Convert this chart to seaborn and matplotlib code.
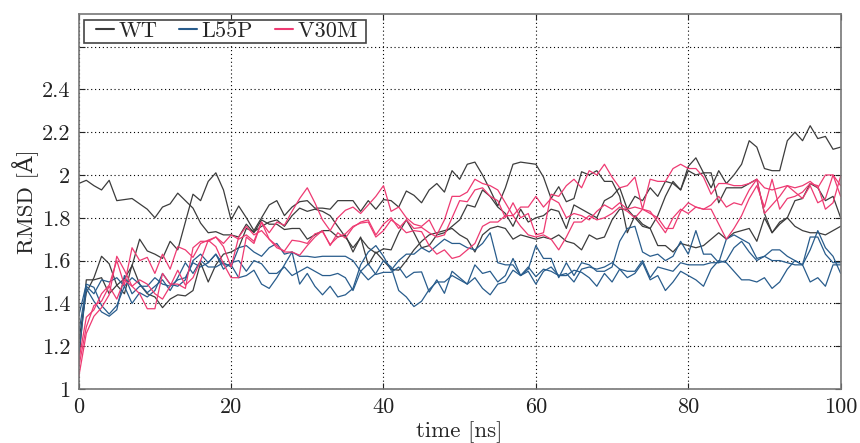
import numpy as np
import pandas as pd
import matplotlib
matplotlib.use("Agg")
import matplotlib.pyplot as plt
from matplotlib.legend_handler import HandlerLine2D
import seaborn as sns

# RMSD traces, one value per ns (0..100), three runs per system
time_ns = list(range(0, 101))

wt_run1 = [1.96, 1.975, 1.95, 1.93, 1.975, 1.88, 1.885, 1.89, 1.865, 1.84,
           1.80, 1.85, 1.865, 1.915, 1.88, 1.845, 1.775, 1.73, 1.735, 1.72,
           1.72, 1.71, 1.77, 1.73, 1.79, 1.77, 1.77, 1.745, 1.75, 1.75,
           1.70, 1.72, 1.74, 1.74, 1.71, 1.72, 1.64, 1.71, 1.58, 1.64,
           1.60, 1.56, 1.555, 1.60, 1.65, 1.69, 1.72, 1.73, 1.74, 1.75,
           1.72, 1.70, 1.64, 1.72, 1.75, 1.76, 1.75, 1.70, 1.72, 1.71,
           1.70, 1.71, 1.70, 1.72, 1.69, 1.68, 1.65, 1.72, 1.70, 1.71,
           1.79, 1.84, 1.84, 1.80, 1.76, 1.75, 1.67, 1.67, 1.64, 1.68,
           1.67, 1.66, 1.67, 1.70, 1.73, 1.70, 1.73, 1.74, 1.75, 1.69,
           1.80, 1.73, 1.78, 1.80, 1.76, 1.74, 1.73, 1.73, 1.72, 1.74,
           1.76]
wt_run2 = [1.22, 1.45, 1.52, 1.62, 1.585, 1.485, 1.515, 1.575, 1.70, 1.645,
           1.63, 1.61, 1.69, 1.65, 1.78, 1.91, 1.88, 1.97, 2.01, 1.93,
           1.79, 1.855, 1.80, 1.74, 1.80, 1.86, 1.88, 1.81, 1.85, 1.875,
           1.88, 1.845, 1.845, 1.84, 1.88, 1.88, 1.88, 1.83, 1.88, 1.84,
           1.885, 1.88, 1.85, 1.925, 1.905, 1.87, 1.93, 1.96, 1.92, 2.02,
           1.98, 2.05, 2.06, 2.00, 1.93, 1.855, 1.94, 2.05, 2.06, 2.055,
           2.05, 1.99, 1.89, 1.945, 1.875, 1.89, 2.015, 2.00, 2.02, 1.97,
           1.97, 1.90, 1.73, 1.81, 1.77, 1.75, 1.81, 1.90, 1.97, 1.93,
           2.04, 2.08, 2.01, 1.94, 2.02, 1.96, 2.00, 2.05, 2.16, 2.13,
           2.03, 2.02, 2.02, 2.16, 2.20, 2.16, 2.23, 2.17, 2.18, 2.12,
           2.13]
wt_run3 = [1.13, 1.51, 1.51, 1.52, 1.445, 1.485, 1.445, 1.58, 1.49, 1.445,
           1.43, 1.38, 1.42, 1.44, 1.435, 1.46, 1.59, 1.50, 1.58, 1.63,
           1.64, 1.66, 1.75, 1.735, 1.76, 1.78, 1.79, 1.76, 1.81, 1.845,
           1.83, 1.84, 1.83, 1.81, 1.76, 1.71, 1.66, 1.705, 1.66, 1.635,
           1.655, 1.65, 1.73, 1.79, 1.73, 1.66, 1.67, 1.72, 1.73, 1.76,
           1.79, 1.86, 1.85, 1.93, 1.90, 1.85, 1.82, 1.76, 1.84, 1.78,
           1.80, 1.81, 1.84, 1.83, 1.75, 1.86, 1.84, 1.82, 1.80, 1.88,
           1.90, 1.94, 1.84, 1.90, 1.88, 1.94, 1.90, 1.97, 1.96, 1.93,
           2.02, 2.00, 2.01, 2.01, 1.87, 1.94, 1.94, 1.94, 1.96, 1.98,
           1.82, 1.73, 1.77, 1.80, 1.88, 1.89, 1.96, 1.94, 1.88, 1.90,
           1.80]

l55p_run1 = [1.34, 1.49, 1.475, 1.39, 1.35, 1.39, 1.48, 1.40, 1.45, 1.43,
             1.46, 1.54, 1.49, 1.48, 1.51, 1.60, 1.63, 1.59, 1.63, 1.58,
             1.58, 1.52, 1.53, 1.555, 1.49, 1.47, 1.52, 1.58, 1.64, 1.49,
             1.54, 1.48, 1.44, 1.48, 1.43, 1.44, 1.47, 1.58, 1.64, 1.67,
             1.62, 1.555, 1.60, 1.63, 1.63, 1.66, 1.64, 1.67, 1.70, 1.68,
             1.68, 1.66, 1.65, 1.68, 1.73, 1.59, 1.58, 1.58, 1.53, 1.56,
             1.67, 1.61, 1.61, 1.52, 1.59, 1.53, 1.59, 1.58, 1.55, 1.55,
             1.57, 1.69, 1.75, 1.76, 1.64, 1.62, 1.63, 1.60, 1.62, 1.69,
             1.63, 1.74, 1.63, 1.63, 1.59, 1.70, 1.72, 1.70, 1.68, 1.61,
             1.62, 1.60, 1.60, 1.59, 1.58, 1.58, 1.65, 1.74, 1.66, 1.62,
             1.54]
l55p_run2 = [1.26, 1.48, 1.445, 1.51, 1.50, 1.52, 1.48, 1.52, 1.49, 1.45,
             1.48, 1.51, 1.46, 1.52, 1.59, 1.54, 1.60, 1.57, 1.57, 1.59,
             1.57, 1.66, 1.67, 1.64, 1.62, 1.66, 1.68, 1.63, 1.64, 1.62,
             1.62, 1.615, 1.62, 1.62, 1.62, 1.62, 1.60, 1.55, 1.51, 1.54,
             1.60, 1.57, 1.46, 1.43, 1.385, 1.41, 1.465, 1.50, 1.50, 1.53,
             1.51, 1.49, 1.52, 1.47, 1.44, 1.49, 1.50, 1.555, 1.53, 1.55,
             1.49, 1.55, 1.57, 1.53, 1.53, 1.555, 1.545, 1.52, 1.48, 1.54,
             1.50, 1.56, 1.52, 1.54, 1.59, 1.51, 1.53, 1.46, 1.50, 1.55,
             1.53, 1.51, 1.48, 1.56, 1.60, 1.59, 1.55, 1.51, 1.51, 1.50,
             1.52, 1.47, 1.50, 1.56, 1.60, 1.58, 1.50, 1.52, 1.48, 1.58,
             1.58]
l55p_run3 = [1.16, 1.47, 1.41, 1.36, 1.34, 1.37, 1.53, 1.445, 1.48, 1.48,
             1.52, 1.49, 1.48, 1.51, 1.52, 1.59, 1.57, 1.59, 1.63, 1.56,
             1.59, 1.60, 1.55, 1.60, 1.585, 1.54, 1.54, 1.57, 1.53, 1.55,
             1.57, 1.55, 1.53, 1.53, 1.54, 1.52, 1.46, 1.55, 1.585, 1.535,
             1.545, 1.545, 1.57, 1.52, 1.545, 1.547, 1.453, 1.51, 1.447, 1.55,
             1.52, 1.49, 1.58, 1.54, 1.55, 1.50, 1.53, 1.61, 1.53, 1.57,
             1.525, 1.56, 1.55, 1.53, 1.54, 1.50, 1.56, 1.57, 1.56, 1.57,
             1.59, 1.56, 1.55, 1.55, 1.60, 1.52, 1.57, 1.56, 1.55, 1.59,
             1.58, 1.58, 1.58, 1.59, 1.59, 1.60, 1.66, 1.69, 1.64, 1.60,
             1.62, 1.65, 1.65, 1.62, 1.60, 1.58, 1.71, 1.71, 1.63, 1.59,
             1.59]

v30m_run1 = [1.055, 1.26, 1.34, 1.38, 1.44, 1.62, 1.555, 1.48, 1.51, 1.49,
             1.445, 1.42, 1.48, 1.555, 1.485, 1.52, 1.60, 1.695, 1.71, 1.68,
             1.72, 1.70, 1.72, 1.69, 1.78, 1.73, 1.78, 1.765, 1.83, 1.89,
             1.94, 1.87, 1.79, 1.74, 1.80, 1.835, 1.85, 1.82, 1.86, 1.90,
             1.95, 1.83, 1.85, 1.80, 1.77, 1.76, 1.79, 1.72, 1.79, 1.90,
             1.90, 1.92, 1.98, 1.96, 1.95, 1.93, 1.87, 1.81, 1.85, 1.85,
             1.90, 1.85, 1.89, 1.87, 1.80, 1.82, 1.81, 1.79, 1.83, 1.86,
             1.84, 1.87, 1.84, 1.85, 1.84, 1.82, 1.80, 1.75, 1.75, 1.83,
             1.87, 1.85, 1.84, 1.84, 1.77, 1.70, 1.75, 1.81, 1.89, 1.95,
             1.85, 1.98, 1.84, 1.89, 1.90, 1.92, 1.96, 1.95, 1.84, 1.87,
             1.995]
v30m_run2 = [1.13, 1.335, 1.37, 1.445, 1.485, 1.60, 1.485, 1.66, 1.60, 1.615,
             1.54, 1.63, 1.56, 1.665, 1.65, 1.615, 1.68, 1.695, 1.665, 1.585,
             1.52, 1.52, 1.71, 1.68, 1.78, 1.70, 1.67, 1.64, 1.64, 1.625,
             1.67, 1.71, 1.74, 1.67, 1.73, 1.705, 1.755, 1.78, 1.79, 1.72,
             1.77, 1.80, 1.75, 1.79, 1.75, 1.755, 1.73, 1.71, 1.72, 1.80,
             1.88, 1.875, 1.93, 1.94, 1.90, 1.88, 1.80, 1.87, 1.80, 1.82,
             1.72, 1.73, 1.91, 1.90, 1.95, 1.98, 1.94, 2.02, 2.00, 2.05,
             1.99, 1.94, 1.95, 1.99, 1.84, 1.98, 1.97, 1.97, 2.03, 2.05,
             2.03, 2.03, 1.99, 1.91, 1.96, 1.96, 1.95, 1.95, 1.96, 1.98,
             1.94, 1.93, 1.94, 1.95, 1.94, 1.95, 1.97, 1.94, 2.00, 2.00,
             1.95]
v30m_run3 = [1.10, 1.29, 1.39, 1.41, 1.48, 1.42, 1.51, 1.48, 1.445, 1.375,
             1.375, 1.54, 1.49, 1.49, 1.47, 1.66, 1.69, 1.69, 1.71, 1.665,
             1.57, 1.71, 1.76, 1.72, 1.74, 1.70, 1.66, 1.645, 1.695, 1.69,
             1.68, 1.725, 1.735, 1.675, 1.71, 1.725, 1.76, 1.775, 1.78, 1.71,
             1.74, 1.79, 1.765, 1.73, 1.74, 1.735, 1.67, 1.63, 1.65, 1.61,
             1.62, 1.65, 1.68, 1.76, 1.78, 1.78, 1.81, 1.81, 1.76, 1.72,
             1.71, 1.72, 1.70, 1.65, 1.71, 1.78, 1.78, 1.81, 1.79, 1.80,
             1.82, 1.85, 1.83, 1.80, 1.84, 1.83, 1.78, 1.73, 1.80, 1.84,
             1.82, 1.85, 1.84, 1.86, 1.90, 1.85, 1.87, 1.86, 1.93, 1.98,
             1.82, 1.86, 1.90, 1.95, 1.92, 1.89, 1.95, 1.87, 1.89, 2.00,
             1.90]

systems = ["WT", "L55P", "V30M"]
runs = {"WT": [wt_run1, wt_run2, wt_run3],
        "L55P": [l55p_run1, l55p_run2, l55p_run3],
        "V30M": [v30m_run1, v30m_run2, v30m_run3]}

y_ticks = [1, 1.2, 1.4, 1.6, 1.8, 2, 2.2, 2.4, 2.6]
y_ticklabels = ["1", "1.2", "1.4", "1.6", "1.8", "2", "2.2", "2.4", ""]
x_ticks = [0, 20, 40, 60, 80, 100]

rows = []
for name in systems:
    for k, vals in enumerate(runs[name]):
        for t, v in zip(time_ns, vals):
            rows.append((name, name + str(k), t, v))
df = pd.DataFrame(rows, columns=["system", "run", "time", "rmsd"])

pal = {"WT": "#3c3c3c", "L55P": "#285c8c", "V30M": "#ee3a72"}

sns.set_style("ticks")
plt.rcParams["font.family"] = ["cmr10", "DejaVu Serif"]
plt.rcParams["mathtext.fontset"] = "cm"
plt.rcParams["axes.unicode_minus"] = False

fig = plt.figure(figsize=(8.6, 4.43), dpi=100)
ax = fig.add_axes([0.0915, 0.1219, 0.886, 0.8465])

sns.lineplot(data=df, x="time", y="rmsd", hue="system", units="run",
             estimator=None, palette=pal, hue_order=systems, lw=0.9, ax=ax)

ax.set_xlim(0, 100)
ax.set_ylim(1, 2.752)
ax.set_xticks(x_ticks)
ax.set_xticklabels([str(x) for x in x_ticks])
ax.set_yticks(y_ticks)
ax.set_yticklabels(y_ticklabels)
ax.grid(True, color="black", linestyle=(0, (1, 2.5)), linewidth=0.8)
ax.tick_params(direction="in", top=True, right=True, length=4, width=0.8,
               labelsize=16, pad=6, colors="#222222")
for sp in ax.spines.values():
    sp.set_color("#777777")
    sp.set_linewidth(1.2)

ax.set_xlabel("time [ns]", fontsize=16.5, labelpad=3)
ax.set_ylabel("RMSD [Å]", fontsize=16.5, labelpad=2)

handles, labels = ax.get_legend_handles_labels()
labels = [lab if lab != "V30M" else "V30M " for lab in labels]
leg = ax.legend(handles, labels, loc="upper left", bbox_to_anchor=(0.0073, 0.985),
                ncol=3, fontsize=16, frameon=True, fancybox=False,
                borderpad=0.08, handlelength=1.25, handletextpad=0.2,
                columnspacing=0.55, borderaxespad=0,
                handler_map={h: HandlerLine2D(xpad=0.45) for h in handles})
leg.get_frame().set_edgecolor("#444444")
leg.get_frame().set_linewidth(1.2)
leg.get_frame().set_alpha(1)
for line in leg.get_lines():
    line.set_linewidth(1.5)

fig.savefig("out.png", dpi=100)
